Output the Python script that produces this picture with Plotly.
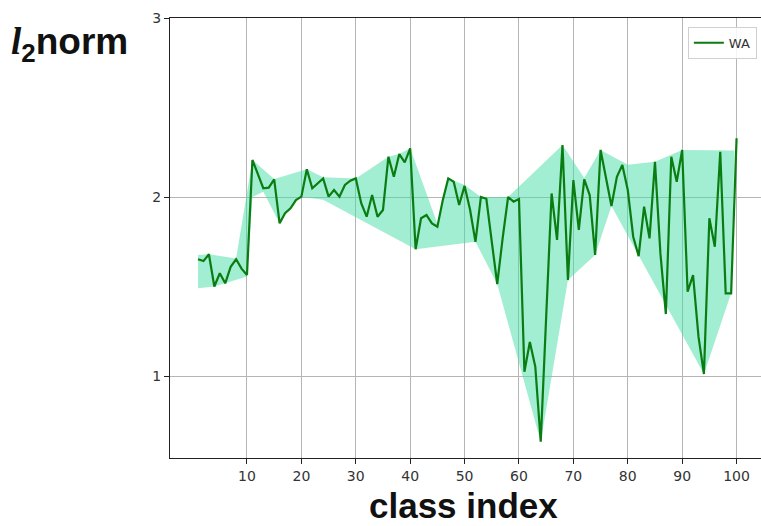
import plotly.graph_objects as go

# Per-class l2 norm of the WA classifier weights
class_idx = list(range(1, 101))
wa_norm = [
    1.652, 1.642, 1.680, 1.500, 1.574, 1.518, 1.610, 1.652, 1.600, 1.564,
    2.207, 2.123, 2.049, 2.052, 2.099, 1.853, 1.909, 1.937, 1.983, 2.002,
    2.155, 2.049, 2.077, 2.104, 2.002, 2.039, 2.002, 2.067, 2.091, 2.104,
    1.965, 1.890, 2.011, 1.890, 1.927, 2.225, 2.113, 2.240, 2.194, 2.272,
    1.708, 1.881, 1.899, 1.853, 1.834, 1.983, 2.104, 2.085, 1.955, 2.062,
    1.930, 1.750, 2.000, 1.990, 1.750, 1.514, 1.770, 2.000, 1.974, 1.989,
    1.024, 1.190, 1.052, 0.633, 1.330, 2.020, 1.760, 2.290, 1.536, 2.095,
    1.816, 2.099, 2.011, 1.676, 2.263, 2.095, 1.950, 2.113, 2.179, 2.039,
    1.778, 1.670, 1.946, 1.769, 2.197, 1.685, 1.346, 2.225, 2.085, 2.263,
    1.471, 1.564, 1.220, 1.011, 1.881, 1.722, 2.253, 1.462, 1.462, 2.328,
]

# Spread band: upper and lower envelope knots
band_upper_x = [1, 3, 8, 11, 15, 21, 24, 30, 36, 38, 40, 45, 47, 50, 53, 58,
                68, 72, 75, 80, 85, 90, 99.6]
band_upper_y = [1.676, 1.680, 1.657, 2.207, 2.100, 2.155, 2.110, 2.104, 2.225,
                2.240, 2.272, 1.850, 2.104, 2.067, 2.000, 2.000, 2.290, 2.106,
                2.263, 2.180, 2.197, 2.263, 2.260]
band_lower_x = [1, 4, 10, 11, 13, 16, 17, 18, 19, 20, 24, 41, 52, 56, 64, 69,
                74, 77, 94, 99]
band_lower_y = [1.490, 1.500, 1.556, 2.000, 2.030, 1.853, 1.909, 1.937, 1.983,
                2.000, 1.985, 1.708, 1.750, 1.514, 0.633, 1.536, 1.676, 1.950,
                1.011, 1.462]

x_ticks = [10, 20, 30, 40, 50, 60, 70, 80, 90, 100]
y_ticks = [1, 2, 3]

fig = go.Figure()

fig.add_trace(go.Scatter(
    x=band_upper_x + band_lower_x[::-1],
    y=band_upper_y + band_lower_y[::-1],
    fill="toself",
    fillcolor="rgba(70, 222, 165, 0.5)",
    line=dict(width=0),
    mode="lines",
    hoverinfo="skip",
    showlegend=False,
))

fig.add_trace(go.Scatter(
    x=class_idx,
    y=wa_norm,
    mode="lines",
    name="WA",
    line=dict(color="#0a7d12", width=2.2),
))

tick_font = dict(family="DejaVu Sans", size=14, color="#333333")

fig.update_layout(
    width=761,
    height=526,
    margin=dict(l=170, r=0, t=18, b=68),
    paper_bgcolor="white",
    plot_bgcolor="white",
    showlegend=True,
    legend=dict(
        x=0.993, y=0.98, xanchor="right", yanchor="top",
        bgcolor="rgba(255,255,255,0.85)",
        bordercolor="#d0d0d0", borderwidth=1,
        font=dict(family="DejaVu Sans", size=13, color="#333333"),
    ),
    xaxis=dict(
        range=[-4.15, 104.49],
        tickvals=x_ticks,
        showgrid=True, gridcolor="#b5b5b5", gridwidth=1,
        showline=True, linecolor="#222222", linewidth=1.2, mirror=True,
        ticks="outside", ticklen=5, tickcolor="#222222",
        zeroline=False, tickfont=tick_font,
    ),
    yaxis=dict(
        range=[0.542, 3.0],
        tickvals=y_ticks,
        showgrid=True, gridcolor="#b5b5b5", gridwidth=1,
        showline=True, linecolor="#222222", linewidth=1.2,
        ticks="outside", ticklen=5, tickcolor="#222222",
        zeroline=False, tickfont=tick_font,
    ),
    annotations=[
        dict(
            text="<b>class index</b>",
            xref="paper", yref="paper", x=0.497, y=-0.156,
            xanchor="center", yanchor="bottom", showarrow=False,
            font=dict(family="Liberation Sans", size=35, color="#111111"),
        ),
        dict(
            text="<b><span style='font-family:Liberation Serif'><i>l</i></span><sub>2</sub>norm</b>",
            xref="paper", yref="paper", x=-0.272, y=0.94,
            xanchor="left", yanchor="middle", showarrow=False,
            font=dict(family="Liberation Sans", size=37, color="#111111"),
        ),
    ],
)

fig.write_html("out.html")
